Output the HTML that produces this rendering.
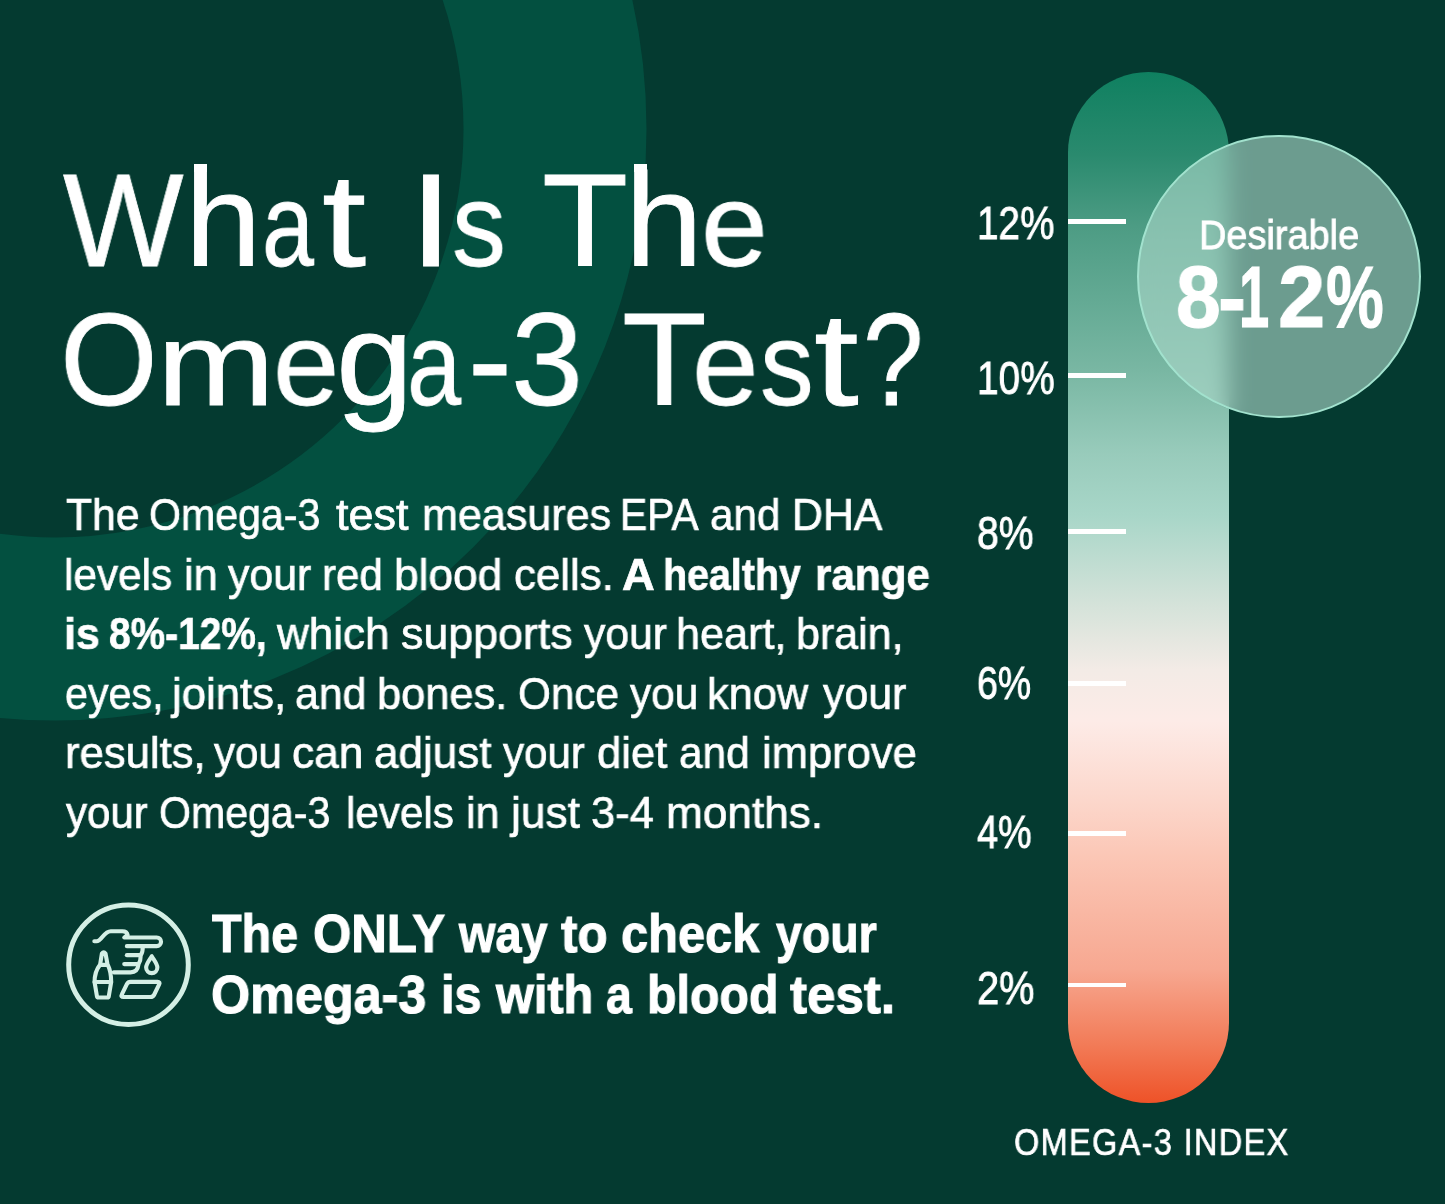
<!DOCTYPE html>
<html>
<head>
<meta charset="utf-8">
<title>What Is The Omega-3 Test?</title>
<style>
  html, body { margin: 0; padding: 0; }
  body {
    width: 1445px; height: 1204px; overflow: hidden; position: relative;
    background: #043a30;
    font-family: "Liberation Sans", sans-serif;
    color: #ffffff;
  }
  .abs { position: absolute; }
  svg.bgring { position: absolute; left: 0; top: 0; }
  .t { position: absolute; white-space: nowrap; line-height: 1; transform-origin: 0 0; color: #fff; will-change: transform; }
  .ln { position: absolute; left: 0; top: 0; width: 0; height: 0; font-size: 0; line-height: 0; }
  .bar {
    position: absolute; left: 1068px; top: 72px; width: 161px; height: 1031px;
    border-radius: 80.5px;
    background: linear-gradient(to bottom,
      #0f8060 0%, #2a8a6e 8%, #4d9c84 15%, #79b7a3 29%, #98cbbb 37%, #a8d6c8 43%,
      #d6e3da 52%, #f3ebe6 58%, #fdebe7 63%, #fcd6ca 71%, #fbc7b6 76%, #f7a891 87%, #f27a56 94.5%, #ee5228 100%);
  }
  .tick { position: absolute; left: 1068px; width: 58px; height: 4.5px; background: #ffffff; }
  .glass {
    position: absolute; left: 1137.3px; top: 134.8px; width: 279.4px; height: 279.4px;
    border-radius: 50%;
    border: 2.5px solid #a2e2ce;
    background: rgba(169,214,199,0.63);
    -webkit-backdrop-filter: blur(11px);
    backdrop-filter: blur(11px);
  }
</style>
</head>
<body>

<svg class="bgring" width="1445" height="1204" viewBox="0 0 1445 1204">
  <circle cx="55" cy="129" r="500" fill="none" stroke="#035040" stroke-width="183"/>
</svg>

<svg class="abs" id="iconring" style="left:60px; top:896px;" width="137" height="137" viewBox="0 0 137 137" fill="none" stroke="#d4efe5">
  <circle cx="68.5" cy="68.8" r="59.8" stroke-width="5"/>
</svg>
<svg class="abs" id="icon" style="left:85px; top:920px;" width="90" height="90" viewBox="0 0 1204 1204" fill="none" stroke="#d4efe5" stroke-width="55" stroke-linecap="round" stroke-linejoin="round">
  <!-- sleeve + pointing finger -->
  <path d="M125 285 L155 285 C225 285 250 150 345 150 L500 150 Q560 150 570 200 L525 235 L960 235 A57 57 0 0 1 960 350 L560 350"/>
  <!-- curled fingers -->
  <path d="M772 352 Q776 425 746 472 Q746 545 716 592 Q704 700 610 700 L385 700"/>
  <path d="M560 470 L735 470"/>
  <path d="M525 590 L700 590"/>
  <!-- bottle -->
  <path d="M205 578 L226 448 Q250 418 274 448 L298 578"/>
  <path d="M200 600 L305 600 C330 650 350 720 350 830 L320 1010 Q318 1037 295 1037 L185 1037 Q160 1037 158 1010 L128 830 C128 720 160 650 200 600 Z"/>
  <path d="M128 830 L350 830"/>
  <!-- drop -->
  <path d="M893 485 C860 540 818 590 818 635 A75 75 0 0 0 968 635 C968 590 926 540 893 485 Z"/>
  <!-- pad -->
  <path d="M610 828 L970 828 Q1010 828 992 862 L925 1000 Q910 1030 875 1030 L515 1030 Q475 1030 493 996 L560 858 Q575 828 610 828 Z"/>
</svg>

<div class="bar"></div>
<div class="tick" style="top:219.35px;"></div>
<div class="tick" style="top:373.45px;"></div>
<div class="tick" style="top:529.35px;"></div>
<div class="tick" style="top:681.05px;"></div>
<div class="tick" style="top:831.05px;"></div>
<div class="tick" style="top:982.55px;"></div>

<div class="glass"></div>

<div class="ln"><span class="t" id="w1a" style="left:62.50px;top:155.01px;font-size:131px;font-weight:400;-webkit-text-stroke:0.8px #fff;transform:scaleX(0.9742);">W</span><span class="t" id="w1b" style="left:185.08px;top:155.01px;font-size:131px;font-weight:400;-webkit-text-stroke:0.8px #fff;transform:scaleX(1.0464);">h</span><span class="t" id="w1c" style="left:261.93px;top:155.01px;font-size:131px;font-weight:400;-webkit-text-stroke:0.8px #fff;transform-origin:0 110.89px;transform:scale(0.7147,0.9);">a</span><span class="t" id="w1d" style="left:321.79px;top:155.01px;font-size:131px;font-weight:400;-webkit-text-stroke:0.8px #fff;transform:scaleX(1.2143);">t</span> <span class="t" id="w2a" style="left:409.21px;top:155.01px;font-size:131px;font-weight:400;-webkit-text-stroke:0.8px #fff;transform:scaleX(1.2077);">I</span><span class="t" id="w2b" style="left:451.93px;top:155.01px;font-size:131px;font-weight:400;-webkit-text-stroke:0.8px #fff;transform-origin:0 110.89px;transform:scale(0.8241,0.9);">s</span> <span class="t" id="w3a" style="left:542.35px;top:155.01px;font-size:131px;font-weight:400;-webkit-text-stroke:0.8px #fff;transform:scaleX(1.0763);">T</span><span class="t" id="w3b" style="left:625.09px;top:155.01px;font-size:131px;font-weight:400;-webkit-text-stroke:0.8px #fff;transform:scaleX(1.0679);">h</span><span class="t" id="w3c" style="left:701.41px;top:155.01px;font-size:131px;font-weight:400;-webkit-text-stroke:0.8px #fff;transform-origin:0 110.89px;transform:scale(0.9175,0.9);">e</span></div>
<div class="ln"><span class="t" id="w4a" style="left:59.75px;top:293.81px;font-size:131px;font-weight:400;-webkit-text-stroke:0.8px #fff;transform:scaleX(0.9578);">O</span><span class="t" id="w4b" style="left:157.26px;top:293.81px;font-size:131px;font-weight:400;-webkit-text-stroke:0.8px #fff;transform-origin:0 110.89px;transform:scale(1.0796,0.9);">m</span><span class="t" id="w4c" style="left:273.45px;top:293.81px;font-size:131px;font-weight:400;-webkit-text-stroke:0.8px #fff;transform-origin:0 110.89px;transform:scale(0.9095,0.9);">e</span><span class="t" id="w4d" style="left:336.21px;top:293.81px;font-size:131px;font-weight:400;-webkit-text-stroke:0.8px #fff;transform:scaleX(1.0583);">g</span><span class="t" id="w4e" style="left:406.68px;top:293.81px;font-size:131px;font-weight:400;-webkit-text-stroke:0.8px #fff;transform-origin:0 110.89px;transform:scale(0.7441,0.9);">a</span><span class="t" id="w4f" style="left:467.67px;top:293.81px;font-size:131px;font-weight:400;-webkit-text-stroke:0.8px #fff;transform:scaleX(1.0061);">-</span><span class="t" id="w4g" style="left:510.86px;top:293.81px;font-size:131px;font-weight:400;-webkit-text-stroke:0.8px #fff;transform:scaleX(0.9889);">3</span> <span class="t" id="w5a" style="left:622.08px;top:293.81px;font-size:131px;font-weight:400;-webkit-text-stroke:0.8px #fff;transform:scaleX(1.0592);">T</span><span class="t" id="w5b" style="left:692.13px;top:293.81px;font-size:131px;font-weight:400;-webkit-text-stroke:0.8px #fff;transform-origin:0 110.89px;transform:scale(0.9143,0.9);">e</span><span class="t" id="w5c" style="left:759.94px;top:293.81px;font-size:131px;font-weight:400;-webkit-text-stroke:0.8px #fff;transform-origin:0 110.89px;transform:scale(0.8207,0.9);">s</span><span class="t" id="w5d" style="left:814.27px;top:293.81px;font-size:131px;font-weight:400;-webkit-text-stroke:0.8px #fff;transform:scaleX(1.2286);">t</span><span class="t" id="w5e" style="left:862.55px;top:293.81px;font-size:131px;font-weight:400;-webkit-text-stroke:0.8px #fff;transform:scaleX(0.8297);">?</span></div>
<div class="ln"><span class="t" id="b1a" style="left:65.50px;top:492.21px;font-size:45px;font-weight:400;-webkit-text-stroke:0.7px #fff;transform:scaleX(0.9487);">The</span> <span class="t" id="b1b" style="left:148.87px;top:492.21px;font-size:45px;font-weight:400;-webkit-text-stroke:0.7px #fff;transform:scaleX(0.9136);">Omega-3</span> <span class="t" id="b1c" style="left:335.60px;top:492.21px;font-size:45px;font-weight:400;-webkit-text-stroke:0.7px #fff;transform:scaleX(1.0014);">test</span> <span class="t" id="b1d" style="left:421.58px;top:492.21px;font-size:45px;font-weight:400;-webkit-text-stroke:0.7px #fff;transform:scaleX(0.9577);">measures</span> <span class="t" id="b1e" style="left:620.48px;top:492.21px;font-size:45px;font-weight:400;-webkit-text-stroke:0.7px #fff;transform:scaleX(0.9060);">EPA</span> <span class="t" id="b1f" style="left:710.46px;top:492.21px;font-size:45px;font-weight:400;-webkit-text-stroke:0.7px #fff;transform:scaleX(0.9375);">and</span> <span class="t" id="b1g" style="left:791.65px;top:492.21px;font-size:45px;font-weight:400;-webkit-text-stroke:0.7px #fff;transform:scaleX(0.9511);">DHA</span></div>
<div class="ln"><span class="t" id="b2a" style="left:63.88px;top:551.91px;font-size:45px;font-weight:400;-webkit-text-stroke:0.7px #fff;transform:scaleX(0.9405);">levels</span> <span class="t" id="b2b" style="left:183.58px;top:551.91px;font-size:45px;font-weight:400;-webkit-text-stroke:0.7px #fff;transform:scaleX(0.9613);">in</span> <span class="t" id="b2c" style="left:228.40px;top:551.91px;font-size:45px;font-weight:400;-webkit-text-stroke:0.7px #fff;transform:scaleX(0.9517);">your</span> <span class="t" id="b2d" style="left:322.43px;top:551.91px;font-size:45px;font-weight:400;-webkit-text-stroke:0.7px #fff;transform:scaleX(0.9344);">red</span> <span class="t" id="b2e" style="left:394.43px;top:551.91px;font-size:45px;font-weight:400;-webkit-text-stroke:0.7px #fff;transform:scaleX(0.9840);">blood</span> <span class="t" id="b2f" style="left:513.93px;top:551.91px;font-size:45px;font-weight:400;-webkit-text-stroke:0.7px #fff;transform:scaleX(0.9735);">cells.</span> <span class="t" id="b2g" style="left:622.19px;top:551.91px;font-size:45px;font-weight:700;-webkit-text-stroke:0.7px #fff;transform:scaleX(1.0065);">A</span> <span class="t" id="b2h" style="left:663.37px;top:551.91px;font-size:45px;font-weight:700;-webkit-text-stroke:0.7px #fff;transform:scaleX(0.8755);">healthy</span> <span class="t" id="b2i" style="left:815.33px;top:551.91px;font-size:45px;font-weight:700;-webkit-text-stroke:0.7px #fff;transform:scaleX(0.9375);">range</span></div>
<div class="ln"><span class="t" id="b3a" style="left:63.74px;top:611.41px;font-size:45px;font-weight:700;-webkit-text-stroke:0.7px #fff;transform:scaleX(0.9545);">is</span> <span class="t" id="b3b" style="left:109.34px;top:611.41px;font-size:45px;font-weight:700;-webkit-text-stroke:0.7px #fff;transform:scaleX(0.8637);">8%-12%,</span> <span class="t" id="b3c" style="left:276.80px;top:611.41px;font-size:45px;font-weight:400;-webkit-text-stroke:0.7px #fff;transform:scaleX(0.9779);">which</span> <span class="t" id="b3d" style="left:400.50px;top:611.41px;font-size:45px;font-weight:400;-webkit-text-stroke:0.7px #fff;transform:scaleX(0.9953);">supports</span> <span class="t" id="b3e" style="left:583.50px;top:611.41px;font-size:45px;font-weight:400;-webkit-text-stroke:0.7px #fff;transform:scaleX(0.9483);">your</span> <span class="t" id="b3f" style="left:675.52px;top:611.41px;font-size:45px;font-weight:400;-webkit-text-stroke:0.7px #fff;transform:scaleX(0.9606);">heart,</span> <span class="t" id="b3g" style="left:795.89px;top:611.41px;font-size:45px;font-weight:400;-webkit-text-stroke:0.7px #fff;transform:scaleX(0.9551);">brain,</span></div>
<div class="ln"><span class="t" id="b4a" style="left:64.58px;top:670.71px;font-size:45px;font-weight:400;-webkit-text-stroke:0.7px #fff;transform:scaleX(0.9165);">eyes,</span> <span class="t" id="b4b" style="left:172.14px;top:670.71px;font-size:45px;font-weight:400;-webkit-text-stroke:0.7px #fff;transform:scaleX(0.9716);">joints,</span> <span class="t" id="b4c" style="left:295.05px;top:670.71px;font-size:45px;font-weight:400;-webkit-text-stroke:0.7px #fff;transform:scaleX(0.9514);">and</span> <span class="t" id="b4d" style="left:377.37px;top:670.71px;font-size:45px;font-weight:400;-webkit-text-stroke:0.7px #fff;transform:scaleX(0.9654);">bones.</span> <span class="t" id="b4e" style="left:517.62px;top:670.71px;font-size:45px;font-weight:400;-webkit-text-stroke:0.7px #fff;transform:scaleX(0.9394);">Once</span> <span class="t" id="b4f" style="left:630.00px;top:670.71px;font-size:45px;font-weight:400;-webkit-text-stroke:0.7px #fff;transform:scaleX(0.9414);">you</span> <span class="t" id="b4g" style="left:707.31px;top:670.71px;font-size:45px;font-weight:400;-webkit-text-stroke:0.7px #fff;transform:scaleX(0.9641);">know</span> <span class="t" id="b4h" style="left:822.60px;top:670.71px;font-size:45px;font-weight:400;-webkit-text-stroke:0.7px #fff;transform:scaleX(0.9529);">your</span></div>
<div class="ln"><span class="t" id="b5a" style="left:64.76px;top:730.41px;font-size:45px;font-weight:400;-webkit-text-stroke:0.7px #fff;transform:scaleX(0.9700);">results,</span> <span class="t" id="b5b" style="left:213.80px;top:730.41px;font-size:45px;font-weight:400;-webkit-text-stroke:0.7px #fff;transform:scaleX(0.9343);">you</span> <span class="t" id="b5c" style="left:291.91px;top:730.41px;font-size:45px;font-weight:400;-webkit-text-stroke:0.7px #fff;transform:scaleX(0.9855);">can</span> <span class="t" id="b5d" style="left:374.22px;top:730.41px;font-size:45px;font-weight:400;-webkit-text-stroke:0.7px #fff;transform:scaleX(0.9790);">adjust</span> <span class="t" id="b5e" style="left:503.30px;top:730.41px;font-size:45px;font-weight:400;-webkit-text-stroke:0.7px #fff;transform:scaleX(0.9356);">your</span> <span class="t" id="b5f" style="left:596.83px;top:730.41px;font-size:45px;font-weight:400;-webkit-text-stroke:0.7px #fff;transform:scaleX(0.9694);">diet</span> <span class="t" id="b5g" style="left:679.46px;top:730.41px;font-size:45px;font-weight:400;-webkit-text-stroke:0.7px #fff;transform:scaleX(0.9417);">and</span> <span class="t" id="b5h" style="left:761.76px;top:730.41px;font-size:45px;font-weight:400;-webkit-text-stroke:0.7px #fff;transform:scaleX(0.9675);">improve</span></div>
<div class="ln"><span class="t" id="b6a" style="left:65.50px;top:790.11px;font-size:45px;font-weight:400;-webkit-text-stroke:0.7px #fff;transform:scaleX(0.9345);">your</span> <span class="t" id="b6b" style="left:158.67px;top:790.11px;font-size:45px;font-weight:400;-webkit-text-stroke:0.7px #fff;transform:scaleX(0.9136);">Omega-3</span> <span class="t" id="b6c" style="left:345.89px;top:790.11px;font-size:45px;font-weight:400;-webkit-text-stroke:0.7px #fff;transform:scaleX(0.9378);">levels</span> <span class="t" id="b6d" style="left:465.99px;top:790.11px;font-size:45px;font-weight:400;-webkit-text-stroke:0.7px #fff;transform:scaleX(0.9548);">in</span> <span class="t" id="b6e" style="left:510.67px;top:790.11px;font-size:45px;font-weight:400;-webkit-text-stroke:0.7px #fff;transform:scaleX(0.9847);">just</span> <span class="t" id="b6f" style="left:591.43px;top:790.11px;font-size:45px;font-weight:400;-webkit-text-stroke:0.7px #fff;transform:scaleX(0.9667);">3-4</span> <span class="t" id="b6g" style="left:665.64px;top:790.11px;font-size:45px;font-weight:400;-webkit-text-stroke:0.7px #fff;transform:scaleX(0.9819);">months.</span></div>
<div class="ln"><span class="t" id="c1a" style="left:212.00px;top:905.79px;font-size:54px;font-weight:700;-webkit-text-stroke:1.1px #fff;transform:scaleX(0.8968);">The</span> <span class="t" id="c1b" style="left:313.28px;top:905.79px;font-size:54px;font-weight:700;-webkit-text-stroke:1.1px #fff;transform:scaleX(0.9112);">ONLY</span> <span class="t" id="c1c" style="left:458.87px;top:905.79px;font-size:54px;font-weight:700;-webkit-text-stroke:1.1px #fff;transform:scaleX(0.8680);">way</span> <span class="t" id="c1d" style="left:561.20px;top:905.79px;font-size:54px;font-weight:700;-webkit-text-stroke:1.1px #fff;transform:scaleX(0.9140);">to</span> <span class="t" id="c1e" style="left:621.30px;top:905.79px;font-size:54px;font-weight:700;-webkit-text-stroke:1.1px #fff;transform:scaleX(0.9039);">check</span> <span class="t" id="c1f" style="left:776.20px;top:905.79px;font-size:54px;font-weight:700;-webkit-text-stroke:1.1px #fff;transform:scaleX(0.8607);">your</span></div>
<div class="ln"><span class="t" id="c2a" style="left:211.14px;top:966.89px;font-size:54px;font-weight:700;-webkit-text-stroke:1.1px #fff;transform:scaleX(0.9320);">Omega-3</span> <span class="t" id="c2b" style="left:440.80px;top:966.89px;font-size:54px;font-weight:700;-webkit-text-stroke:1.1px #fff;transform:scaleX(0.9000);">is</span> <span class="t" id="c2c" style="left:496.40px;top:966.89px;font-size:54px;font-weight:700;-webkit-text-stroke:1.1px #fff;transform:scaleX(0.9009);">with</span> <span class="t" id="c2d" style="left:605.64px;top:966.89px;font-size:54px;font-weight:700;-webkit-text-stroke:1.1px #fff;transform:scaleX(0.8600);">a</span> <span class="t" id="c2e" style="left:646.72px;top:966.89px;font-size:54px;font-weight:700;-webkit-text-stroke:1.1px #fff;transform:scaleX(0.8943);">blood</span> <span class="t" id="c2f" style="left:790.40px;top:966.89px;font-size:54px;font-weight:700;-webkit-text-stroke:1.1px #fff;transform:scaleX(0.9463);">test.</span></div>
<div class="ln"><span class="t" id="l12" style="left:976.78px;top:200.26px;font-size:46px;font-weight:400;-webkit-text-stroke:0.9px #fff;transform:scaleX(0.8409);">12%</span></div>
<div class="ln"><span class="t" id="l10" style="left:976.97px;top:354.76px;font-size:46px;font-weight:400;-webkit-text-stroke:0.9px #fff;transform:scaleX(0.8432);">10%</span></div>
<div class="ln"><span class="t" id="l8" style="left:977.45px;top:510.46px;font-size:46px;font-weight:400;-webkit-text-stroke:0.9px #fff;transform:scaleX(0.8516);">8%</span></div>
<div class="ln"><span class="t" id="l6" style="left:977.27px;top:659.96px;font-size:46px;font-weight:400;-webkit-text-stroke:0.9px #fff;transform:scaleX(0.8143);">6%</span></div>
<div class="ln"><span class="t" id="l4" style="left:977.30px;top:808.86px;font-size:46px;font-weight:400;-webkit-text-stroke:0.9px #fff;transform:scaleX(0.8231);">4%</span></div>
<div class="ln"><span class="t" id="l2" style="left:976.57px;top:964.76px;font-size:46px;font-weight:400;-webkit-text-stroke:0.9px #fff;transform:scaleX(0.8651);">2%</span></div>
<div class="ln"><span class="t" id="des" style="left:1199.43px;top:215.49px;font-size:41px;font-weight:400;-webkit-text-stroke:0.8px #fff;transform:scaleX(0.9243);">Desirable</span></div>
<div class="ln"><span class="t" id="big1" style="left:1176.37px;top:253.11px;font-size:88px;font-weight:700;-webkit-text-stroke:1.2px #fff;transform:scaleX(0.9133);">8</span><span class="t" id="big2" style="left:1218.44px;top:253.11px;font-size:88px;font-weight:700;-webkit-text-stroke:1.2px #fff;transform:scaleX(0.9542);">-</span><span class="t" id="big3" style="left:1239.00px;top:253.11px;font-size:88px;font-weight:700;-webkit-text-stroke:1.2px #fff;transform:scaleX(0.6190);">1</span><span class="t" id="big4" style="left:1277.57px;top:253.11px;font-size:88px;font-weight:700;-webkit-text-stroke:1.2px #fff;transform:scaleX(0.9659);">2</span><span class="t" id="big5" style="left:1326.46px;top:253.11px;font-size:88px;font-weight:700;-webkit-text-stroke:1.2px #fff;transform:scaleX(0.7382);">%</span></div>
<div class="ln"><span class="t" id="idx" style="left:1013.60px;top:1125.23px;font-size:36px;font-weight:400;letter-spacing:1.5px;-webkit-text-stroke:0.7px #fff;transform:scaleX(0.9020);">OMEGA-3 INDEX</span></div>
<div class="abs" style="left:193.8px;top:163.8px;width:13.2px;height:8px;background:#fff;"></div>
<div class="abs" style="left:633.8px;top:163.8px;width:13.2px;height:8px;background:#fff;"></div>

</body>
</html>
